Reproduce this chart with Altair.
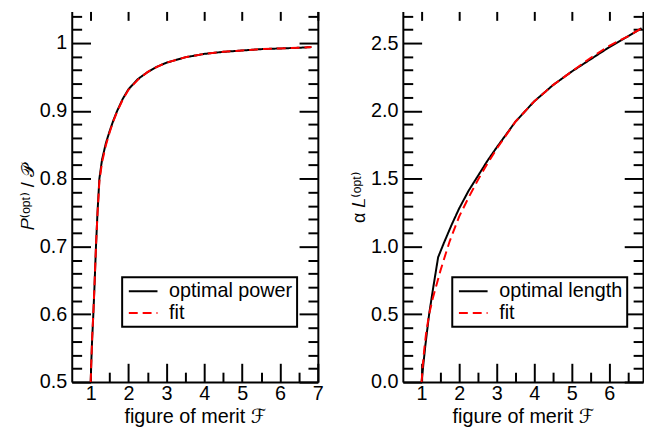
import altair as alt
import pandas as pd

FONT = "Liberation Sans, DejaVu Sans, sans-serif"

# ---------------- left panel: optimal power ----------------
power_F = [1.0, 1.02, 1.04, 1.07, 1.1, 1.14, 1.18, 1.23, 1.3, 1.4, 1.5, 1.6, 1.7, 1.85,
           2.0, 2.25, 2.5, 2.75, 3.0, 3.5, 4.0, 4.5, 5.0, 5.5, 6.0, 6.5, 6.83]
power_opt = [0.5, 0.535, 0.565, 0.6, 0.64, 0.7, 0.75, 0.8, 0.828, 0.852, 0.87, 0.886, 0.9, 0.918,
             0.932, 0.947, 0.957, 0.965, 0.971, 0.979, 0.984, 0.987, 0.989, 0.991, 0.992, 0.993, 0.994]
power_fit = [0.5, 0.535, 0.566, 0.602, 0.642, 0.7, 0.748, 0.796, 0.824, 0.849, 0.868, 0.885, 0.899, 0.917,
             0.931, 0.946, 0.957, 0.965, 0.971, 0.979, 0.984, 0.987, 0.989, 0.991, 0.992, 0.993, 0.994]

# ---------------- right panel: optimal length ----------------
length_F = [1.0, 1.05, 1.1, 1.2, 1.3, 1.44, 1.6, 1.8, 2.0, 2.25, 2.5, 2.75, 3.0, 3.5,
            4.0, 4.5, 5.0, 5.5, 6.0, 6.5, 6.86]
length_opt = [0.0, 0.14, 0.27, 0.5, 0.68, 0.92, 1.03, 1.16, 1.28, 1.41, 1.52, 1.63, 1.73, 1.92,
              2.07, 2.19, 2.29, 2.38, 2.47, 2.55, 2.61]
fit_F = [1.0, 1.03, 1.07, 1.12, 1.2, 1.3, 1.4, 1.5, 1.6, 1.75, 2.0, 2.25, 2.5, 2.75, 3.0, 3.5,
         4.0, 4.5, 5.0, 5.5, 6.0, 6.5, 6.86]
length_fit = [0.0, 0.12, 0.24, 0.36, 0.5, 0.62, 0.72, 0.82, 0.91, 1.04, 1.22, 1.36, 1.49, 1.61, 1.72, 1.92,
              2.07, 2.19, 2.29, 2.39, 2.48, 2.55, 2.61]

# ---------------- ticks ----------------
left_x_major = [1, 2, 3, 4, 5, 6, 7]
left_x_minor = [1.5, 2.5, 3.5, 4.5, 5.5, 6.5]
left_y_major = [0.5, 0.6, 0.7, 0.8, 0.9, 1.0]
left_y_minor = [0.52, 0.54, 0.56, 0.58, 0.62, 0.64, 0.66, 0.68, 0.72, 0.74, 0.76, 0.78,
                0.82, 0.84, 0.86, 0.88, 0.92, 0.94, 0.96, 0.98, 1.02, 1.04]
right_x_major = [1, 2, 3, 4, 5, 6]
right_x_minor = [1.5, 2.5, 3.5, 4.5, 5.5, 6.5]
right_y_major = [0.0, 0.5, 1.0, 1.5, 2.0, 2.5]
right_y_minor = [0.1, 0.2, 0.3, 0.4, 0.6, 0.7, 0.8, 0.9, 1.1, 1.2, 1.3, 1.4, 1.6, 1.7, 1.8, 1.9,
                 2.1, 2.2, 2.3, 2.4, 2.6, 2.7]

MAJ = alt.ExprRef("-19")
MIN = alt.ExprRef("-10")
TOPMAJ = alt.ExprRef("-9")


def make_df(name_a, xa, ya, xb, yb):
    rows = [{"F": f, "v": v, "series": name_a} for f, v in zip(xa, ya)]
    rows += [{"F": f, "v": v, "series": "fit"} for f, v in zip(xb, yb)]
    return pd.DataFrame(rows)


def panel(df, names, xdom, ydom, xmaj, xmin, ymaj, ymin, yfmt, ytitle, width, legx):
    xs = alt.Scale(domain=xdom, nice=False, zero=False)
    ys = alt.Scale(domain=ydom, nice=False, zero=False)
    leg = alt.Legend(orient="none", legendX=legx, legendY=269, title=None,
                     strokeColor="black", fillColor="white", padding=4,
                     labelFontSize=20, labelFont=FONT, labelColor="black",
                     symbolType="M-1,0H3", symbolSize=210.25, symbolStrokeWidth=2,
                     labelOffset=23.5, rowPadding=2)
    base = alt.Chart(df)
    lines = base.mark_line(strokeWidth=2, clip=True).encode(
        x=alt.X("F:Q", scale=xs, axis=alt.Axis(
            orient="bottom", values=xmaj, format="d", tickSize=MAJ, labelPadding=21,
            labelFlush=False, labelOverlap=False, title="figure of merit  ℱ", titlePadding=3)),
        y=alt.Y("v:Q", scale=ys, axis=alt.Axis(
            orient="left", values=ymaj, format=yfmt, tickSize=MAJ, labelPadding=24,
            labelFlush=False, labelOverlap=False, title=ytitle, titlePadding=2,
            titleFontSize=18)),
        color=alt.Color("series:N", scale=alt.Scale(domain=names, range=["black", "red"]), legend=leg),
        strokeDash=alt.StrokeDash("series:N", scale=alt.Scale(domain=names, range=[[1, 0], [9, 5]]), legend=leg),
    )
    ghost = base.mark_point(opacity=0, size=1)
    l2 = ghost.encode(
        x=alt.X("F:Q", scale=xs, axis=alt.Axis(orient="top", values=xmaj, tickSize=TOPMAJ,
                                             labels=False, domain=False, title=None)),
        y=alt.Y("v:Q", scale=ys, axis=alt.Axis(orient="right", values=ymaj, tickSize=MAJ,
                                             labels=False, domain=True, title=None)),
    )
    l3 = ghost.encode(
        x=alt.X("F:Q", scale=xs, axis=alt.Axis(orient="bottom", values=xmin, tickSize=MIN,
                                             labels=False, domain=False, title=None)),
        y=alt.Y("v:Q", scale=ys, axis=alt.Axis(orient="left", values=ymin, tickSize=MIN,
                                             labels=False, domain=False, title=None)),
    )
    l4 = ghost.encode(
        x=alt.X("F:Q", scale=xs, axis=None),
        y=alt.Y("v:Q", scale=ys, axis=alt.Axis(orient="right", values=ymin, tickSize=MIN,
                                             labels=False, domain=False, title=None)),
    )
    return alt.layer(lines, l2, l3, l4).resolve_axis(x="independent", y="independent").properties(
        width=width, height=375)


left_df = make_df("optimal power", power_F, power_opt, power_F, power_fit)
right_df = make_df("optimal length", length_F, length_opt, fit_F, length_fit)

left = panel(left_df, ["optimal power", "fit"], [0.5, 7.0], [0.5, 1.0466],
             left_x_major, left_x_minor, left_y_major, left_y_minor, "~g",
             "𝑃⁽ᵒᵖᵗ⁾ / 𝒫", 249, 51)
right = panel(right_df, ["optimal length", "fit"], [0.5, 6.9], [0.0, 2.7334],
              right_x_major, right_x_minor, right_y_major, right_y_minor, ".1f",
              "α 𝐿⁽ᵒᵖᵗ⁾", 243, 50)

chart = alt.hconcat(left, right, spacing=86, bounds="flush",
                    padding={"left": 11.5, "top": 0, "right": 0, "bottom": 0}).resolve_scale(
    color="independent", strokeDash="independent").configure_axis(
    domainColor="black", domainWidth=2, tickColor="black", tickWidth=2,
    labelFont=FONT, labelFontSize=20, labelColor="black",
    titleFont=FONT, titleFontSize=20, titleColor="black", titleFontWeight="normal",
    grid=False).configure_view(stroke=None).configure_legend(strokeWidth=2)

chart.save("out.html", embed_options={"renderer": "svg", "actions": False})
